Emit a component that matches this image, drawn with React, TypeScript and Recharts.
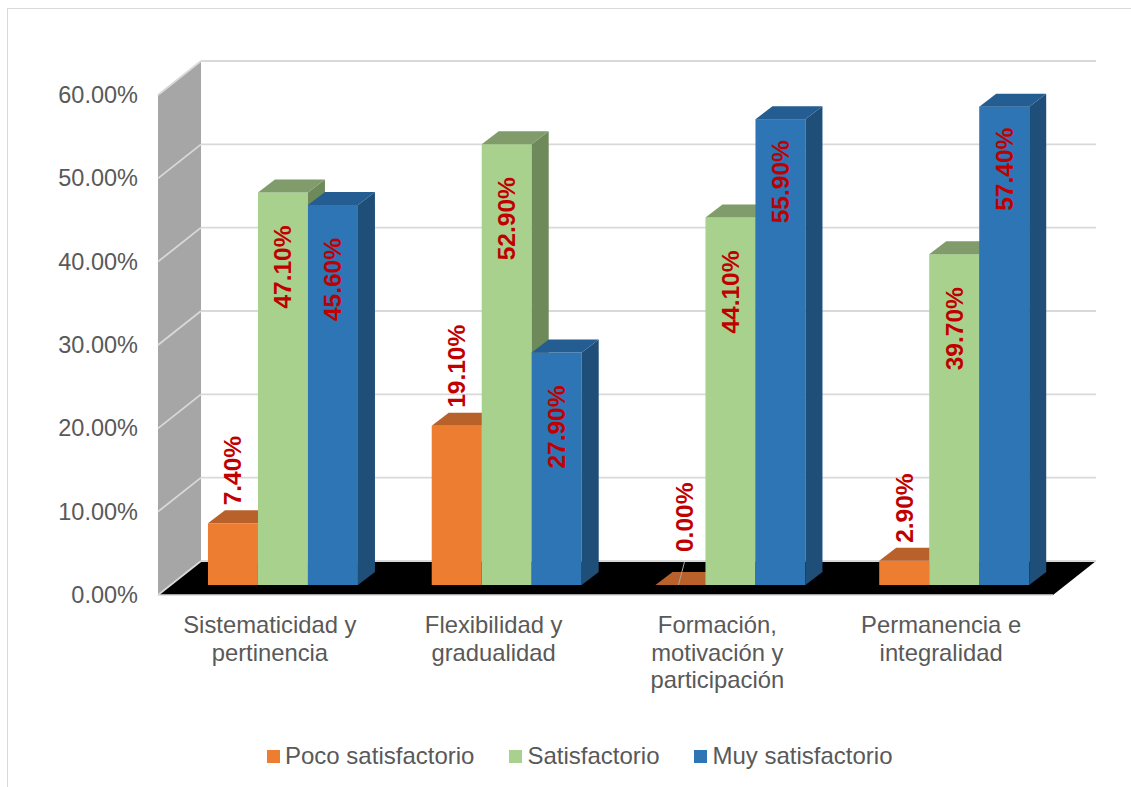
import React from 'react';
import {
  BarChart,
  Bar,
  XAxis,
  YAxis,
  LabelList,
  ReferenceArea,
  ReferenceLine,
} from 'recharts';

const categories = [
  'Sistematicidad y\npertinencia',
  'Flexibilidad y\ngradualidad',
  'Formación,\nmotivación y\nparticipación',
  'Permanencia e\nintegralidad',
];
const pocoSatisfactorio = [7.4, 19.1, 0, 2.9];
const satisfactorio = [47.1, 52.9, 44.1, 39.7];
const muySatisfactorio = [45.6, 27.9, 55.9, 57.4];
const yTicks = [0, 10, 20, 30, 40, 50, 60];

const seriesNames = ['Poco satisfactorio', 'Satisfactorio', 'Muy satisfactorio'];

const data = categories.map((name, i) => ({
  name,
  poco: pocoSatisfactorio[i],
  sat: satisfactorio[i],
  muy: muySatisfactorio[i],
}));

// colours of each 3D bar: front / top / side
const series = [
  { key: 'poco', name: seriesNames[0], front: '#ED7D31', top: '#B8612A', side: '#A9561F', labelOutside: true },
  { key: 'sat', name: seriesNames[1], front: '#A9D18E', top: '#7F9C6A', side: '#6E8A5A', labelOutside: false },
  { key: 'muy', name: seriesNames[2], front: '#2E75B6', top: '#245D91', side: '#1F4E79', labelOutside: false },
];

// geometry of the fake 3D box (relative to the bar plane)
const W = 1131;
const H = 787;
const PLOT_LEFT = 170.6;
const PLOT_TOP = 85;
const PLOT_BOTTOM = 585;
const FRONT_DX = -12.6;
const FRONT_DY = 10;
const BACK_DX = 30.4;
const BACK_DY = -24;
const BAR_DX = 17;
const BAR_DY = -13;

const FONT = '"Liberation Sans", Arial, sans-serif';
const TEXT = '#595959';
const LABEL_RED = '#C00000';
const LABEL_SIZE = 24.5;

const pts = (arr: number[][]) => arr.map((p) => p.join(',')).join(' ');

const makeBarShape = (s: typeof series[number]) => (props: any) => {
  const { x, y, width, height } = props;
  const h = Math.abs(height || 0);
  const top = height < 0 ? y + height : y;
  return (
    <g>
      <rect x={x} y={top} width={width} height={h} fill={s.front} />
      <polygon
        points={pts([
          [x + width, top],
          [x + width + BAR_DX, top + BAR_DY],
          [x + width + BAR_DX, top + h + BAR_DY],
          [x + width, top + h],
        ])}
        fill={s.side}
      />
      <polygon
        points={pts([
          [x, top],
          [x + BAR_DX, top + BAR_DY],
          [x + width + BAR_DX, top + BAR_DY],
          [x + width, top],
        ])}
        fill={s.top}
      />
    </g>
  );
};

const makeLabel = (s: typeof series[number]) => (props: any) => {
  const vb = props.viewBox || {};
  const x = props.x ?? vb.x;
  const y = props.y ?? vb.y;
  const width = props.width ?? vb.width;
  const height = props.height ?? vb.height ?? 0;
  const value = Number(props.value);
  const cx = x + width / 2;
  const top = height < 0 ? y + height : y;
  const text = `${value.toFixed(2)}%`;
  if (s.labelOutside) {
    const zero = value === 0;
    const ay = zero ? top - 33 : top - 18;
    const lx = cx + (zero ? 4 : 0);
    return (
      <g>
        {zero && <line x1={cx - 2} y1={top} x2={cx + 4} y2={top - 23} stroke="#A6A6A6" strokeWidth={1} />}
        <text
          x={lx}
          y={ay}
          transform={`rotate(-90, ${lx}, ${ay})`}
          textAnchor="start"
          dominantBaseline="central"
          fill={LABEL_RED}
          fontFamily={FONT}
          fontWeight="bold"
          fontSize={LABEL_SIZE}
        >
          {text}
        </text>
      </g>
    );
  }
  // the tallest bars keep their label a little closer to the top
  const ay = top + (value > 55 ? 21 : 33);
  return (
    <text
      x={cx}
      y={ay}
      transform={`rotate(-90, ${cx}, ${ay})`}
      textAnchor="end"
      dominantBaseline="central"
      fill={LABEL_RED}
      fontFamily={FONT}
      fontWeight="bold"
      fontSize={LABEL_SIZE}
    >
      {text}
    </text>
  );
};

// left wall + floor, drawn from the 0..60 area of the plot
const BoxShape = (props: any) => {
  const { x, y, width, height } = props;
  const b = y + height;
  return (
    <g>
      <polygon
        points={pts([
          [x + FRONT_DX, y + FRONT_DY],
          [x + BACK_DX, y + BACK_DY],
          [x + BACK_DX, b + BACK_DY],
          [x + FRONT_DX, b + FRONT_DY],
        ])}
        fill="#A6A6A6"
      />
      <polygon
        points={pts([
          [x + FRONT_DX, b + FRONT_DY],
          [x + width + FRONT_DX, b + FRONT_DY],
          [x + width + BACK_DX, b + BACK_DY],
          [x + BACK_DX, b + BACK_DY],
        ])}
        fill="#000000"
      />
      <line
        x1={x + FRONT_DX}
        y1={b + FRONT_DY}
        x2={x + width + FRONT_DX}
        y2={b + FRONT_DY}
        stroke="#D9D9D9"
        strokeWidth={1.5}
      />
    </g>
  );
};

const GridShape = (props: any) => {
  const { x1, y1, x2 } = props;
  return (
    <g>
      <line
        x1={x1 + FRONT_DX}
        y1={y1 + FRONT_DY}
        x2={x1 + BACK_DX}
        y2={y1 + BACK_DY}
        stroke="#D9D9D9"
        strokeWidth={1.8}
      />
      <line
        x1={x1 + BACK_DX}
        y1={y1 + BACK_DY}
        x2={x2 + BACK_DX}
        y2={y1 + BACK_DY}
        stroke="#D9D9D9"
        strokeWidth={1.8}
      />
    </g>
  );
};

const YTick = (props: any) => {
  const { y, payload } = props;
  return (
    <text
      x={PLOT_LEFT + FRONT_DX - 20}
      y={y + FRONT_DY}
      textAnchor="end"
      dominantBaseline="central"
      fill={TEXT}
      fontFamily={FONT}
      fontSize={23.5}
    >
      {`${Number(payload.value).toFixed(2)}%`}
    </text>
  );
};

const XTick = (props: any) => {
  const { x, payload } = props;
  const lines = String(payload.value).split('\n');
  return (
    <text
      x={x + FRONT_DX}
      y={PLOT_BOTTOM + 48}
      textAnchor="middle"
      fill={TEXT}
      fontFamily={FONT}
      fontSize={23.8}
    >
      {lines.map((l, i) => (
        <tspan key={i} x={x + FRONT_DX} dy={i === 0 ? 0 : 27.5}>
          {l}
        </tspan>
      ))}
    </text>
  );
};

export default function App() {
  return (
    <div
      style={{
        position: 'absolute',
        left: 0,
        top: 0,
        width: W,
        height: H,
        overflow: 'hidden',
        background: '#fff',
      }}
    >
      <div
        style={{
          position: 'absolute',
          left: 7,
          top: 8,
          width: W + 50,
          height: H + 50,
          border: '1.5px solid #D9D9D9',
        }}
      />
      <div style={{ position: 'absolute', left: 0, top: 0 }}>
        <BarChart
          width={W}
          height={H}
          data={data}
          margin={{ top: PLOT_TOP, right: W - 1065.6, bottom: H - PLOT_BOTTOM - 110, left: 0 }}
          barCategoryGap="16.7%"
          barGap={0}
        >
          <XAxis
            dataKey="name"
            axisLine={false}
            tickLine={false}
            height={110}
            interval={0}
            tick={<XTick />}
          />
          <YAxis
            domain={[0, 60]}
            ticks={yTicks}
            width={PLOT_LEFT}
            axisLine={false}
            tickLine={false}
            tick={<YTick />}
          />
          <ReferenceArea y1={0} y2={60} shape={<BoxShape />} zIndex={-60} />
          {yTicks.map((t) => (
            <ReferenceLine key={t} y={t} shape={<GridShape />} zIndex={-55} />
          ))}
          {series.map((s) => (
            <Bar
              key={s.key}
              dataKey={s.key}
              name={s.name}
              fill={s.front}
              shape={makeBarShape(s)}
              isAnimationActive={false}
            >
              <LabelList dataKey={s.key} content={makeLabel(s)} />
            </Bar>
          ))}
        </BarChart>
      </div>
      <div
        style={{
          position: 'absolute',
          left: 267,
          top: 742,
          display: 'flex',
          alignItems: 'center',
          fontFamily: FONT,
          fontSize: 24,
          color: TEXT,
          whiteSpace: 'nowrap',
        }}
      >
        {series.map((s) => (
          <div key={s.key} style={{ display: 'flex', alignItems: 'center', marginRight: 35 }}>
            <span style={{ width: 13, height: 13, background: s.front, marginRight: 5, display: 'inline-block' }} />
            <span>{s.name}</span>
          </div>
        ))}
      </div>
    </div>
  );
}
